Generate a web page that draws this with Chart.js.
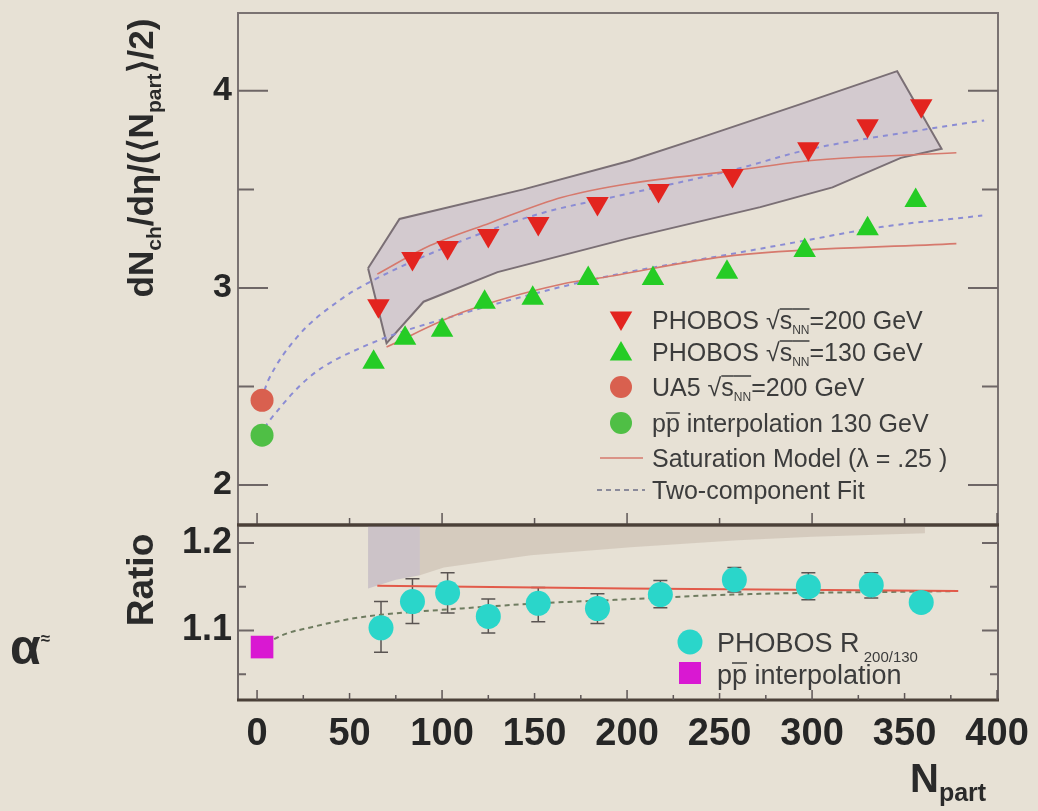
<!DOCTYPE html>
<html>
<head>
<meta charset="utf-8">
<script src="https://cdn.jsdelivr.net/npm/chart.js@4.4.0/dist/chart.umd.min.js"></script>
<style>
  html, body { margin: 0; padding: 0; background: #e7e1d5; }
  #wrap { position: relative; width: 1038px; height: 811px; }
  canvas { position: absolute; left: 0; top: 0; }
</style>
</head>
<body>
<div id="wrap">
  <canvas id="topChart" width="1038" height="811"></canvas>
  <canvas id="ratioChart" width="1038" height="811"></canvas>
</div>
<script>
const FONT = '"Liberation Sans", Arial, Helvetica, sans-serif';

// axis ticks
const xTicks = [0, 50, 100, 150, 200, 250, 300, 350, 400];
const xMajor = [0, 100, 200, 300, 400];
const xMinor = [50, 150, 250, 350];
const xFine = [25, 75, 125, 175, 225, 275, 325, 375];
const topTicks = [2, 3, 4];
const topMinor = [2.5, 3.5];
const ratioTicks = [1.1, 1.2];
const ratioMinor = [1.05, 1.15];

// PHOBOS sqrt(sNN)=200 GeV
const npart200 = [65.6, 84, 103, 125, 152, 184, 217, 257, 298, 330, 359];
const dn200 = [2.91, 3.149, 3.205, 3.266, 3.327, 3.428, 3.494, 3.57, 3.706, 3.823, 3.924];
// PHOBOS sqrt(sNN)=130 GeV
const npart130 = [63, 80, 100, 123, 149, 179, 214, 254, 296, 330, 356];
const dn130 = [2.623, 2.744, 2.785, 2.927, 2.947, 3.048, 3.048, 3.08, 3.19, 3.30, 3.443];
// pp / ppbar references
const ua5N = [2.7];
const ua5 = [2.43];
const ppN = [2.7];
const pp130 = [2.253];

// saturation model curves
const satN200 = [65, 93.5, 126, 165, 201.6, 258, 298, 378];
const sat200 = [3.07, 3.215, 3.33, 3.46, 3.53, 3.595, 3.645, 3.686];
const satN130 = [70, 111, 165, 185, 258, 378];
const sat130 = [2.70, 2.876, 3.02, 3.05, 3.165, 3.225];

// two-component fits
const fitN200 = [4, 6, 21.6, 45, 63, 111, 153, 201.6, 258, 297, 365, 393];
const fit200 = [2.48, 2.53, 2.75, 2.94, 3.04, 3.24, 3.377, 3.48, 3.60, 3.70, 3.81, 3.85];
const fitN130 = [4, 7, 28.6, 57, 111, 185, 258, 296, 338, 392];
const fit130 = [2.29, 2.33, 2.55, 2.70, 2.87, 3.05, 3.175, 3.24, 3.31, 3.367];

// systematic band (outline, in order)
const bandN = [60, 77, 144, 201.6, 239, 293, 346, 370, 348, 311, 272, 200, 130, 90, 70, 60];
const bandY = [3.10, 3.35, 3.50, 3.645, 3.76, 3.93, 4.10, 3.706, 3.66, 3.51, 3.41, 3.25, 3.08, 2.93, 2.72, 3.10];

// ratio 200/130
const ratioN = [67, 84, 103, 125, 152, 184, 218, 258, 298, 332, 359];
const ratio = [1.103, 1.133, 1.143, 1.116, 1.131, 1.125, 1.141, 1.158, 1.150, 1.152, 1.132];
const ratioLo = [1.075, 1.108, 1.120, 1.097, 1.110, 1.108, 1.126, 1.144, 1.135, 1.137, 1.126];
const ratioHi = [1.133, 1.159, 1.166, 1.136, 1.149, 1.142, 1.157, 1.172, 1.166, 1.166, 1.138];
const ppRatioN = [2.7];
const ppRatio = [1.081];
const rFitN = [5, 14, 30, 48.6, 67, 103, 152, 184, 257, 378];
const rFit = [1.085, 1.095, 1.104, 1.1125, 1.118, 1.124, 1.131, 1.134, 1.141, 1.145];
const rSatN = [65, 200, 379];
const rSat = [1.151, 1.148, 1.145];
// ratio band pieces
const rBandAN = [60, 60, 75, 88, 88];
const rBandA = [1.23, 1.148, 1.158, 1.163, 1.23];
const rBandBN = [88, 88, 101, 148, 202, 260, 300, 361, 361];
const rBandB = [1.23, 1.163, 1.172, 1.186, 1.195, 1.203, 1.207, 1.211, 1.23];

const pts = (xs, ys) => xs.map((x, i) => ({ x: x, y: ys[i] }));

// ---------- text helpers ----------
function fontOf(p) {
  return (p.bold ? 'bold ' : '') + p.size + 'px ' + FONT;
}
function richWidth(ctx, parts) {
  let w = 0;
  parts.forEach(p => { ctx.font = fontOf(p); w += ctx.measureText(p.t).width; });
  return w;
}
function drawRich(ctx, parts, x, y) {
  let cx = x;
  parts.forEach(p => {
    ctx.font = fontOf(p);
    const w = ctx.measureText(p.t).width;
    ctx.fillText(p.t, cx, y + (p.dy || 0));
    if (p.ol !== undefined) {
      ctx.save();
      ctx.lineWidth = 1.5;
      ctx.strokeStyle = ctx.fillStyle;
      ctx.beginPath();
      ctx.moveTo(cx, y + p.ol);
      ctx.lineTo(cx + w, y + p.ol);
      ctx.stroke();
      ctx.restore();
    }
    cx += w;
  });
  return cx;
}

function drawMarker(ctx, style, x, y, r, color) {
  ctx.save();
  ctx.fillStyle = color;
  ctx.beginPath();
  if (style === 'down' || style === 'up') {
    const s = style === 'down' ? -1 : 1;
    ctx.moveTo(x, y - s * r);
    ctx.lineTo(x + r * 0.866, y + s * r / 2);
    ctx.lineTo(x - r * 0.866, y + s * r / 2);
    ctx.closePath();
  } else if (style === 'rect') {
    ctx.rect(x - r, y - r, 2 * r, 2 * r);
  } else {
    ctx.arc(x, y, r, 0, Math.PI * 2);
  }
  ctx.fill();
  ctx.restore();
}

function hLine(ctx, x1, x2, y, color, w, dash) {
  ctx.save();
  ctx.strokeStyle = color;
  ctx.lineWidth = w;
  ctx.setLineDash(dash || []);
  ctx.beginPath();
  ctx.moveTo(x1, y);
  ctx.lineTo(x2, y);
  ctx.stroke();
  ctx.restore();
}

function innerTicks(ctx, chart, yId, major, minor, lenMajor, lenMinor) {
  const a = chart.chartArea;
  const ys = chart.scales[yId];
  ctx.save();
  ctx.strokeStyle = '#6e6666';
  ctx.lineWidth = 2;
  ctx.beginPath();
  major.forEach(v => {
    const py = ys.getPixelForValue(v);
    ctx.moveTo(a.left, py); ctx.lineTo(a.left + lenMajor, py);
    ctx.moveTo(a.right, py); ctx.lineTo(a.right - lenMajor, py);
  });
  minor.forEach(v => {
    const py = ys.getPixelForValue(v);
    ctx.moveTo(a.left, py); ctx.lineTo(a.left + lenMinor, py);
    ctx.moveTo(a.right, py); ctx.lineTo(a.right - lenMinor, py);
  });
  ctx.stroke();
  ctx.restore();
}

function xTickMarks(ctx, chart, values, len) {
  const a = chart.chartArea;
  const xs = chart.scales.x;
  ctx.save();
  ctx.strokeStyle = '#5e5656';
  ctx.lineWidth = 1.5;
  ctx.beginPath();
  values.forEach(v => {
    const px = xs.getPixelForValue(v);
    ctx.moveTo(px, a.bottom); ctx.lineTo(px, a.bottom - len);
  });
  ctx.stroke();
  ctx.restore();
}

// no automatic padding for the axes: the frame is fixed
function fixWidth(s) {
  s.width = 238;
  s.paddingTop = 0;
  s.paddingBottom = 0;
}
function fixHeight(s) {
  s.height = 111;
  s.paddingLeft = 0;
  s.paddingRight = 0;
}

// ---------- top panel ----------
const topDecor = {
  id: 'topDecor',
  afterDraw(chart) {
    const ctx = chart.ctx;
    const a = chart.chartArea;

    // frame
    ctx.save();
    ctx.strokeStyle = '#7a7272';
    ctx.lineWidth = 2;
    ctx.beginPath();
    ctx.moveTo(a.left, a.bottom); ctx.lineTo(a.left, a.top);
    ctx.lineTo(a.right, a.top); ctx.lineTo(a.right, a.bottom);
    ctx.stroke();
    ctx.restore();
    hLine(ctx, a.left - 1, a.right + 1, a.bottom, '#4b4038', 3);

    innerTicks(ctx, chart, 'y', topTicks, topMinor, 30, 16);
    xTickMarks(ctx, chart, xMajor, 12);
    xTickMarks(ctx, chart, xMinor, 7);

    // y title
    ctx.save();
    ctx.fillStyle = '#2a2a2a';
    ctx.textBaseline = 'alphabetic';
    const title = [
      { t: 'dN', size: 35, bold: true },
      { t: 'ch', size: 21, bold: true, dy: 8 },
      { t: '/d\u03b7/(\u27e8N', size: 35, bold: true },
      { t: 'part', size: 21, bold: true, dy: 8 },
      { t: '\u27e9/2)', size: 35, bold: true }
    ];
    const tw = richWidth(ctx, title);
    ctx.translate(153, 158 + tw / 2);
    ctx.rotate(-Math.PI / 2);
    drawRich(ctx, title, 0, 0);
    ctx.restore();

    // legend
    ctx.save();
    ctx.fillStyle = '#3c3c3c';
    ctx.textBaseline = 'alphabetic';
    const lx = 652, mx = 621;
    const rows = [320, 352, 387, 423, 458, 490];
    const fs = 25;
    const sqrtPart = [
      { t: '\u221a', size: fs },
      { t: 's', size: fs, ol: -20 },
      { t: 'NN', size: 12, dy: 5, ol: -20 }
    ];
    drawMarker(ctx, 'down', mx, rows[0] - 2, 13, '#e3241f');
    drawRich(ctx, [{ t: 'PHOBOS ', size: fs }].concat(sqrtPart, [{ t: '=200 GeV', size: fs }]), lx, rows[0] + 9);
    drawMarker(ctx, 'up', mx, rows[1] + 2, 13, '#25cc25');
    drawRich(ctx, [{ t: 'PHOBOS ', size: fs }].concat(sqrtPart, [{ t: '=130 GeV', size: fs }]), lx, rows[1] + 9);
    drawMarker(ctx, 'circle', mx, rows[2], 11, '#d9604f');
    drawRich(ctx, [{ t: 'UA5 ', size: fs }].concat(sqrtPart, [{ t: '=200 GeV', size: fs }]), lx, rows[2] + 9);
    drawMarker(ctx, 'circle', mx, rows[3], 11, '#4fbf45');
    drawRich(ctx, [{ t: 'p', size: fs }, { t: 'p', size: fs, ol: -19 }, { t: ' interpolation 130 GeV', size: fs }], lx, rows[3] + 9);
    hLine(ctx, 600, 643, rows[4], '#d6796d', 1.5);
    drawRich(ctx, [{ t: 'Saturation Model (\u03bb = .25 )', size: fs }], lx, rows[4] + 9);
    hLine(ctx, 597, 645, rows[5], '#8a8a9a', 2, [5, 4]);
    drawRich(ctx, [{ t: 'Two-component Fit', size: fs }], lx, rows[5] + 9);
    ctx.restore();
  }
};

new Chart(document.getElementById('topChart'), {
  type: 'scatter',
  data: {
    datasets: [
      {
        label: 'PHOBOS 200 GeV',
        data: pts(npart200, dn200),
        pointStyle: 'triangle', pointRotation: 180, pointRadius: 13,
        backgroundColor: '#e3241f', borderColor: '#e3241f', borderWidth: 0
      },
      {
        label: 'PHOBOS 130 GeV',
        data: pts(npart130, dn130),
        pointStyle: 'triangle', pointRadius: 13,
        backgroundColor: '#25cc25', borderColor: '#25cc25', borderWidth: 0
      },
      {
        label: 'UA5 200 GeV',
        data: pts(ua5N, ua5),
        pointRadius: 11.5, backgroundColor: '#d9604f', borderWidth: 0
      },
      {
        label: 'pp interpolation 130 GeV',
        data: pts(ppN, pp130),
        pointRadius: 11.5, backgroundColor: '#4fbf45', borderWidth: 0
      },
      {
        label: 'Saturation 200',
        data: pts(satN200, sat200),
        showLine: true, pointRadius: 0, borderColor: '#d6796d', borderWidth: 1.6,
        cubicInterpolationMode: 'monotone'
      },
      {
        label: 'Saturation 130',
        data: pts(satN130, sat130),
        showLine: true, pointRadius: 0, borderColor: '#d6796d', borderWidth: 1.6,
        cubicInterpolationMode: 'monotone'
      },
      {
        label: 'Fit 200',
        data: pts(fitN200, fit200),
        showLine: true, pointRadius: 0, borderColor: '#8b8cd4', borderWidth: 2,
        borderDash: [5, 5], cubicInterpolationMode: 'monotone'
      },
      {
        label: 'Fit 130',
        data: pts(fitN130, fit130),
        showLine: true, pointRadius: 0, borderColor: '#8b8cd4', borderWidth: 2,
        borderDash: [5, 5], cubicInterpolationMode: 'monotone'
      },
      {
        label: 'Systematic band',
        data: pts(bandN, bandY),
        showLine: true, pointRadius: 0, tension: 0,
        borderColor: '#7a6f75', borderWidth: 2,
        backgroundColor: 'rgba(180,165,198,0.38)', fill: 'shape'
      }
    ]
  },
  options: {
    responsive: false,
    animation: false,
    layout: { padding: { top: 12, right: 40, bottom: 286, left: 0 } },
    plugins: { legend: { display: false }, tooltip: { enabled: false } },
    scales: {
      x: {
        type: 'linear', min: -10.3, max: 400.5, display: false
      },
      y: {
        type: 'linear', min: 1.797, max: 4.395,
        afterBuildTicks: s => { s.ticks = topTicks.map(v => ({ value: v })); },
        afterFit: fixWidth,
        grid: { display: false, drawTicks: false },
        border: { display: false },
        ticks: {
          font: { family: FONT, size: 34, weight: 'bold' },
          color: '#262626', padding: 6,
          callback: v => String(v)
        }
      }
    }
  },
  plugins: [topDecor]
});

// ---------- ratio panel ----------
const ratioDecor = {
  id: 'ratioDecor',
  beforeDatasetsDraw(chart) {
    // error bars under the markers
    const ctx = chart.ctx;
    const xs = chart.scales.x, ys = chart.scales.y;
    ctx.save();
    ctx.strokeStyle = '#5a5452';
    ctx.lineWidth = 1.5;
    ctx.beginPath();
    ratioN.forEach((n, i) => {
      const px = xs.getPixelForValue(n);
      const lo = ys.getPixelForValue(ratioLo[i]);
      const hi = ys.getPixelForValue(ratioHi[i]);
      ctx.moveTo(px, lo); ctx.lineTo(px, hi);
      ctx.moveTo(px - 7, lo); ctx.lineTo(px + 7, lo);
      ctx.moveTo(px - 7, hi); ctx.lineTo(px + 7, hi);
    });
    ctx.stroke();
    ctx.restore();
  },
  afterDraw(chart) {
    const ctx = chart.ctx;
    const a = chart.chartArea;

    ctx.save();
    ctx.strokeStyle = '#6e6666';
    ctx.lineWidth = 2;
    ctx.beginPath();
    ctx.moveTo(a.left, a.top); ctx.lineTo(a.left, a.bottom);
    ctx.moveTo(a.right, a.top); ctx.lineTo(a.right, a.bottom);
    ctx.stroke();
    ctx.restore();
    hLine(ctx, a.left - 1, a.right + 1, a.top, '#4b4038', 3);
    hLine(ctx, a.left - 1, a.right + 1, a.bottom, '#4b4038', 3);

    innerTicks(ctx, chart, 'y', ratioTicks, ratioMinor, 16, 8);
    xTickMarks(ctx, chart, xMajor, 10);
    xTickMarks(ctx, chart, xMinor, 7);
    xTickMarks(ctx, chart, xFine, 5);

    // titles
    ctx.save();
    ctx.fillStyle = '#2a2a2a';
    ctx.textBaseline = 'alphabetic';
    ctx.save();
    ctx.font = 'bold 37px ' + FONT;
    const rw = ctx.measureText('Ratio').width;
    ctx.translate(153, 580 + rw / 2);
    ctx.rotate(-Math.PI / 2);
    ctx.fillText('Ratio', 0, 0);
    ctx.restore();

    drawRich(ctx, [{ t: 'N', size: 40, bold: true }, { t: 'part', size: 25, bold: true, dy: 9 }], 910, 792);
    drawRich(ctx, [{ t: '\u03b1', size: 50, bold: true }, { t: '\u2248', size: 17, bold: true, dy: -20 }], 10, 664);
    ctx.restore();

    // legend
    ctx.save();
    ctx.fillStyle = '#3c3c3c';
    ctx.textBaseline = 'alphabetic';
    drawMarker(ctx, 'circle', 690, 642, 12.5, '#2ad6ca');
    drawRich(ctx, [{ t: 'PHOBOS R', size: 27 }, { t: ' 200/130', size: 15, dy: 10 }], 717, 652);
    drawMarker(ctx, 'rect', 690, 673, 11, '#d918d2');
    drawRich(ctx, [{ t: 'p', size: 27 }, { t: 'p', size: 27, ol: -21 }, { t: ' interpolation', size: 27 }], 717, 684);
    ctx.restore();
  }
};

new Chart(document.getElementById('ratioChart'), {
  type: 'scatter',
  data: {
    datasets: [
      {
        label: 'PHOBOS R 200/130',
        data: pts(ratioN, ratio),
        pointRadius: 12.5, backgroundColor: '#2ad6ca', borderWidth: 0
      },
      {
        label: 'pp interpolation',
        data: pts(ppRatioN, ppRatio),
        pointStyle: 'rect', pointRadius: 16, backgroundColor: '#d918d2', borderWidth: 0
      },
      {
        label: 'Saturation ratio',
        data: pts(rSatN, rSat),
        showLine: true, pointRadius: 0, borderColor: '#e25a4a', borderWidth: 2, tension: 0
      },
      {
        label: 'Fit ratio',
        data: pts(rFitN, rFit),
        showLine: true, pointRadius: 0, borderColor: '#6f7c60', borderWidth: 2,
        borderDash: [5, 4], cubicInterpolationMode: 'monotone'
      },
      {
        label: 'Band A',
        data: pts(rBandAN, rBandA),
        showLine: true, pointRadius: 0, borderWidth: 0, tension: 0,
        backgroundColor: 'rgba(170,160,185,0.45)', fill: 'shape'
      },
      {
        label: 'Band B',
        data: pts(rBandBN, rBandB),
        showLine: true, pointRadius: 0, borderWidth: 0, tension: 0,
        backgroundColor: 'rgba(180,162,148,0.35)', fill: 'shape'
      }
    ]
  },
  options: {
    responsive: false,
    animation: false,
    layout: { padding: { top: 525, right: 40, bottom: 0, left: 0 } },
    plugins: { legend: { display: false }, tooltip: { enabled: false } },
    scales: {
      x: {
        type: 'linear', min: -10.3, max: 400.5, position: 'bottom',
        afterBuildTicks: s => { s.ticks = xTicks.map(v => ({ value: v })); },
        afterFit: fixHeight,
        grid: { display: false, drawTicks: false },
        border: { display: false },
        ticks: {
          font: { family: FONT, size: 38, weight: 'bold' },
          color: '#262626', padding: 12, maxRotation: 0, autoSkip: false,
          callback: v => String(v)
        }
      },
      y: {
        type: 'linear', min: 1.0205, max: 1.2205,
        afterBuildTicks: s => { s.ticks = ratioTicks.map(v => ({ value: v })); },
        afterFit: fixWidth,
        grid: { display: false, drawTicks: false },
        border: { display: false },
        ticks: {
          font: { family: FONT, size: 36, weight: 'bold' },
          color: '#262626', padding: 6,
          callback: v => v.toFixed(1)
        }
      }
    }
  },
  plugins: [ratioDecor]
});
</script>
</body>
</html>
